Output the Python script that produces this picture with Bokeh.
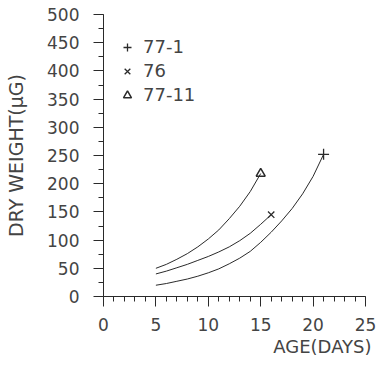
from bokeh.plotting import figure
from bokeh.models import Range1d, SingleIntervalTicker, Legend, LegendItem, Title
from bokeh.embed import file_html
from bokeh.resources import INLINE

# ---- data ----
days_77_1 = [5, 6, 7, 8, 9, 10, 11, 12, 13, 14, 15, 16, 17, 18, 19, 20, 21]
wt_77_1 = [20, 23, 27, 31, 36, 42, 49, 58, 68, 80, 96, 114, 134, 156, 182, 213, 252]

days_76 = [5, 6, 7, 8, 9, 10, 11, 12, 13, 14, 15, 16]
wt_76 = [40, 45, 51, 57, 64, 71, 79, 88, 99, 112, 128, 145]

days_77_11 = [5, 6, 7, 8, 9, 10, 11, 12, 13, 14, 15]
wt_77_11 = [50, 57, 66, 76, 88, 102, 118, 138, 160, 186, 218]

series_labels = ["77-1", "76", "77-11"]
x_label = "AGE(DAYS)"
y_label = "DRY WEIGHT(\u03bcG)"

INK = "#2a2a2a"
TXT = "#444444"
FONT = "DejaVu Sans"

p = figure(width=376, height=359, output_backend="svg", toolbar_location=None,
           x_range=Range1d(0, 25), y_range=Range1d(0, 500),
           min_border_left=103, min_border_right=11, min_border_top=14,
           min_border_bottom=63)
p.outline_line_color = None
p.grid.visible = False
p.background_fill_color = "white"

# curves
p.line(days_77_1, wt_77_1, line_color=INK, line_width=1)
p.line(days_76, wt_76, line_color=INK, line_width=1)
p.line(days_77_11, wt_77_11, line_color=INK, line_width=1)

# end markers
r1 = p.scatter([days_77_1[-1]], [wt_77_1[-1]], marker="cross", size=11,
               line_color=INK, line_width=1.3, fill_color=None)
r2 = p.scatter([days_76[-1]], [wt_76[-1]], marker="x", size=9,
               line_color=INK, line_width=1.3, fill_color=None)
r3 = p.scatter([days_77_11[-1]], [wt_77_11[-1]], marker="triangle", size=9,
               line_color=INK, line_width=1.5, fill_color=None)

legend = Legend(items=[LegendItem(label=series_labels[0], renderers=[r1]),
                       LegendItem(label=series_labels[1], renderers=[r2]),
                       LegendItem(label=series_labels[2], renderers=[r3])],
                location=(14, 191))
legend.background_fill_alpha = 0
legend.border_line_color = None
legend.padding = 0
legend.margin = 0
legend.spacing = 3
legend.glyph_width = 20
legend.glyph_height = 20
legend.label_height = 18
legend.label_standoff = 6
legend.label_text_font = FONT
legend.label_text_font_size = "18px"
legend.label_text_color = TXT
p.add_layout(legend)

# axes
xa = p.xaxis[0]
ya = p.yaxis[0]
xa.ticker = SingleIntervalTicker(interval=5, num_minor_ticks=5)
ya.ticker = SingleIntervalTicker(interval=50, num_minor_ticks=2)
for ax in (xa, ya):
    ax.axis_line_color = INK
    ax.major_tick_line_color = INK
    ax.minor_tick_line_color = INK
    ax.major_tick_out = 10
    ax.major_tick_in = 0
    ax.minor_tick_out = 5
    ax.minor_tick_in = 0
    ax.major_label_text_font = FONT
    ax.major_label_text_font_size = "17px"
    ax.major_label_text_color = TXT

xa.major_label_standoff = 11
ya.major_label_standoff = 14

ya.axis_label = y_label
ya.axis_label_standoff = 17
ya.axis_label_text_font = FONT
ya.axis_label_text_font_size = "19px"
ya.axis_label_text_font_style = "normal"
ya.axis_label_text_color = TXT

xt = Title(text=x_label, align="right", offset=-6, standoff=0,
           text_font=FONT, text_font_size="18px", text_font_style="normal",
           text_color=TXT)
p.add_layout(xt, "below")

open("out.html", "w").write(file_html(p, INLINE))
